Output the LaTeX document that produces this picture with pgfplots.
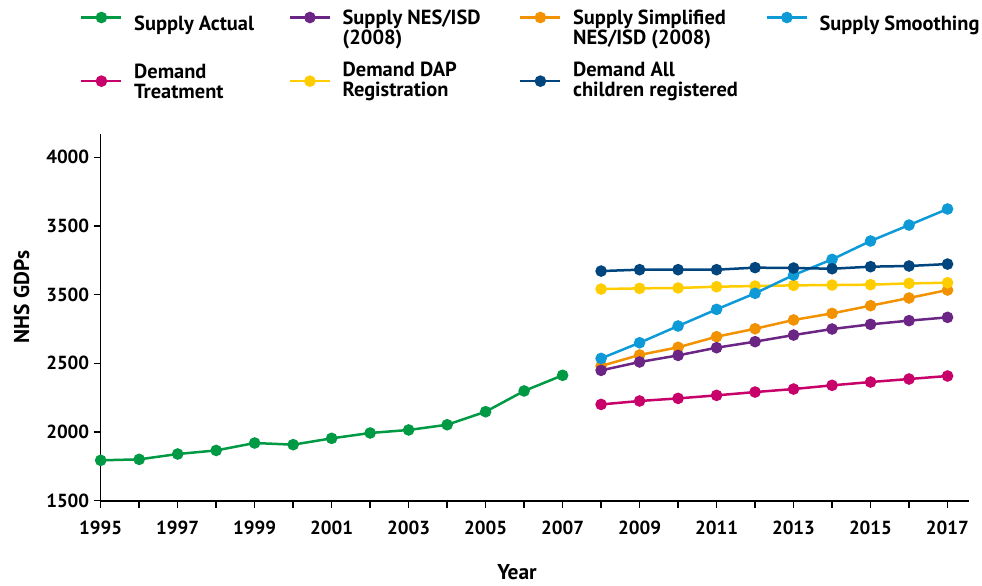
\documentclass[border=0pt]{standalone}
\usepackage{fontspec}
\setmainfont{PT Sans}
\usepackage{pgfplots}
\pgfplotsset{compat=1.18}
\definecolor{cGreen}{HTML}{009A44}
\definecolor{cPurple}{HTML}{6B2585}
\definecolor{cOrange}{HTML}{F39200}
\definecolor{cLBlue}{HTML}{0E9AD7}
\definecolor{cMagenta}{HTML}{C8006A}
\definecolor{cYellow}{HTML}{FFCC00}
\definecolor{cDBlue}{HTML}{00457E}
\pgfplotsset{ser/.style={color=#1, line width=2.5bp, mark=*, mark size=4.5bp, mark options={solid, fill=#1}}}
\newcommand{\lgbox}[3]{\raisebox{#1}[\height][\depth]{\parbox[c][40bp][c]{#2}{\raggedright #3}}}
\begin{document}
\begin{tikzpicture}
\useasboundingbox (-100.7bp,-85.3bp) rectangle (881.3bp,500.7bp);
\begin{axis}[
  scale only axis, width=868bp, height=366.7bp,
  xmin=1995, xmax=2017.55, ymin=1500, ymax=4170,
  axis lines*=left, axis line style={-, line width=1.6bp},
  tick style={black, line width=1.4bp},
  tick align=outside, major tick length=7bp,
  xtick={1995,...,2017},
  xticklabels={1995,,1997,,1999,,2001,,2003,,2005,,2007,,2009,,2011,,2013,,2015,,2017},
  ytick={1500,2000,2500,3000,3500,4000},
  yticklabels={1500,2000,2500,3500,3500,4000},
  tick label style={font=\bfseries\fontsize{19}{22}\selectfont},
  xticklabel style={yshift=-10bp},
  yticklabel style={xshift=-1bp},
  xlabel={Year}, ylabel={NHS GDPs},
  every axis x label/.style={at={(axis description cs:0.4796,0)}, anchor=center, yshift=-71bp, font=\bfseries\fontsize{21.5}{24}\selectfont},
  every axis y label/.style={at={(axis description cs:0,0.5555)}, anchor=center, xshift=-79bp, rotate=90, font=\bfseries\fontsize{21.5}{24}\selectfont},
  legend columns=4,
  legend style={draw=none, fill=none, at={(axis description cs:-0.02385,1.36)}, anchor=north west,
    inner sep=0pt, column sep=0pt, row sep=33bp,
    font=\bfseries\fontsize{20.5}{20}\selectfont,
    cells={anchor=west, inner sep=0pt}},
  legend image code/.code={\draw[mark repeat=2,mark phase=2] plot coordinates {(0bp,0bp)(20bp,0bp)(40bp,0bp)}; \path (49.5bp,0bp);},
]
\addlegendimage{ser=cGreen}\addlegendentry{\lgbox{-1bp}{152.5bp}{Supply Actual}}
\addlegendimage{ser=cPurple}\addlegendentry{\lgbox{-5bp}{174.5bp}{Supply NES/ISD\\(2008)}}
\addlegendimage{ser=cOrange}\addlegendentry{\lgbox{-5bp}{190.5bp}{Supply Simplified\\NES/ISD (2008)}}
\addlegendimage{ser=cLBlue}\addlegendentry{\lgbox{-1bp}{160bp}{Supply Smoothing}}
\addlegendimage{ser=cMagenta}\addlegendentry{\lgbox{6.5bp}{152.5bp}{Demand\\Treatment}}
\addlegendimage{ser=cYellow}\addlegendentry{\lgbox{6.5bp}{174.5bp}{Demand DAP\\Registration}}
\addlegendimage{ser=cDBlue}\addlegendentry{\lgbox{6.5bp}{190.5bp}{Demand All\\children registered}}

\addplot[ser=cGreen, forget plot] coordinates {(1995,1794)(1996,1801)(1997,1840)(1998,1866)(1999,1920)(2000,1908)(2001,1954)(2002,1993)(2003,2015)(2004,2053)(2005,2148)(2006,2299)(2007,2413)};
\addplot[ser=cMagenta, forget plot] coordinates {(2008,2201)(2009,2226)(2010,2245)(2011,2267)(2012,2291)(2013,2313)(2014,2340)(2015,2364)(2016,2386)(2017,2408)};
\addplot[ser=cOrange, forget plot] coordinates {(2008,2481)(2009,2561)(2010,2617)(2011,2694)(2012,2752)(2013,2816)(2014,2864)(2015,2920)(2016,2976)(2017,3034)};
\addplot[ser=cPurple, forget plot] coordinates {(2008,2449)(2009,2510)(2010,2558)(2011,2614)(2012,2658)(2013,2706)(2014,2750)(2015,2784)(2016,2811)(2017,2835)};
\addplot[ser=cYellow, forget plot] coordinates {(2008,3041)(2009,3046)(2010,3049)(2011,3058)(2012,3063)(2013,3068)(2014,3070)(2015,3073)(2016,3082)(2017,3087)};
\addplot[ser=cLBlue, forget plot] coordinates {(2008,2536)(2009,2650)(2010,2772)(2011,2893)(2012,3010)(2013,3143)(2014,3257)(2015,3391)(2016,3507)(2017,3624)};
\addplot[ser=cDBlue, forget plot] coordinates {(2008,3172)(2009,3182)(2010,3182)(2011,3182)(2012,3197)(2013,3194)(2014,3189)(2015,3204)(2016,3209)(2017,3223)};
\end{axis}
\end{tikzpicture}
\end{document}
